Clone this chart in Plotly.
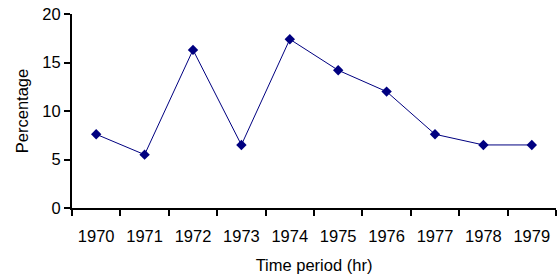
import plotly.graph_objects as go

years = ["1970", "1971", "1972", "1973", "1974", "1975", "1976", "1977", "1978", "1979"]
percentages = [7.6, 5.5, 16.3, 6.5, 17.4, 14.2, 12.0, 7.6, 6.5, 6.5]

fig = go.Figure(go.Scatter(
    x=years, y=percentages, mode="lines+markers",
    line=dict(color="#000080", width=1),
    marker=dict(symbol="diamond", size=8, color="#000080"),
))

fs = 16.5
font = dict(family="Liberation Sans, Arial, sans-serif", size=fs, color="black")
fig.update_layout(
    width=557, height=278,
    margin=dict(l=72, r=1, t=14, b=70),
    plot_bgcolor="white", paper_bgcolor="white",
    font=font, showlegend=False,
    xaxis=dict(
        type="category", range=[-0.5, 9.5], tickson="boundaries",
        ticks="outside", ticklen=6, tickwidth=2, tickcolor="black",
        showline=True, linecolor="black", linewidth=2,
        showgrid=False, zeroline=False, automargin=False,
        ticklabelstandoff=12, tickfont=dict(size=fs),
        title=dict(text="Time period (hr)", standoff=16, font=dict(size=fs)),
    ),
    yaxis=dict(
        range=[0, 20], dtick=5, ticks="outside", ticklen=6, tickwidth=2,
        tickcolor="black", showline=True, linecolor="black", linewidth=2,
        showgrid=False, zeroline=False, automargin=False,
        tickfont=dict(size=fs),
        title=dict(text="Percentage", standoff=10, font=dict(size=fs)),
    ),
)
fig.write_html("out.html", config={"displayModeBar": False},
               post_script="document.body.style.margin='0';")
